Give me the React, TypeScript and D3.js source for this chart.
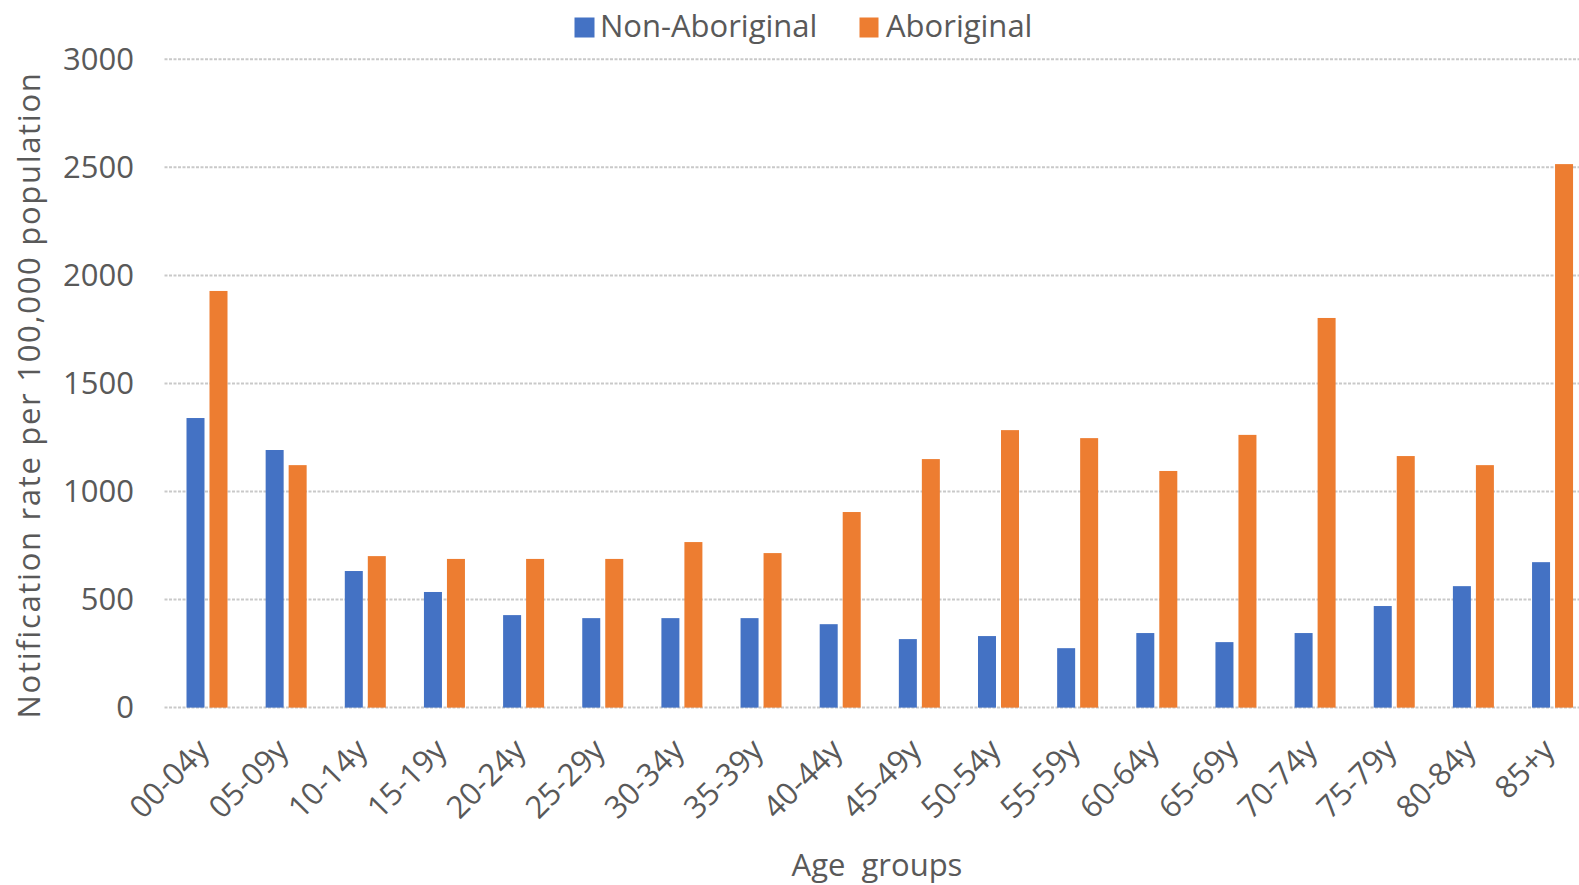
import React from 'react';
import * as d3 from 'd3';

const categories = ['00-04y', '05-09y', '10-14y', '15-19y', '20-24y', '25-29y', '30-34y', '35-39y', '40-44y', '45-49y', '50-54y', '55-59y', '60-64y', '65-69y', '70-74y', '75-79y', '80-84y', '85+y'];
const seriesNames = ['Non-Aboriginal', 'Aboriginal'];
const nonAboriginal = [1340, 1192, 632, 535, 428, 414, 414, 414, 386, 317, 331, 275, 345, 303, 345, 470, 562, 673];
const aboriginal = [1928, 1122, 701, 688, 688, 688, 766, 715, 905, 1150, 1284, 1247, 1095, 1262, 1803, 1164, 1122, 2515];
const yTicks = [0, 500, 1000, 1500, 2000, 2500, 3000];
const colors = ['#4472C4', '#ED7D31'];

const W = 1579;
const H = 885;
const FONT = '"Open Sans", "Noto Sans", sans-serif';
const TEXT = '#595959';

export default function App() {
  const step = 79.15;
  const bandStart = 207 - step / 2;
  const x0 = d3.scaleBand<string>().domain(categories).range([bandStart, bandStart + step * categories.length]).padding(0);
  const x1 = d3.scaleBand<string>().domain(seriesNames).range([0, 41]).paddingInner(5 / 23).paddingOuter(0);
  const y = d3.scaleLinear().domain([0, 3000]).range([707.6, 59.3]);
  const gridLeft = 164.5;
  const values = [nonAboriginal, aboriginal];

  return (
    <svg width={W} height={H} style={{ position: 'absolute', left: 0, top: 0, display: 'block', background: '#fff' }}>
      {/* horizontal gridlines */}
      {yTicks.map((t) => (
        <line key={'g' + t} x1={gridLeft} x2={W} y1={y(t)} y2={y(t)} stroke="#c9c9c9" strokeWidth={2} strokeDasharray="3 1.5" />
      ))}
      {/* y tick labels */}
      {yTicks.map((t) => (
        <text key={'t' + t} x={134} y={y(t)} dy="0.35em" textAnchor="end" fontFamily={FONT} fontSize={31} fill={TEXT}>{t}</text>
      ))}
      {/* bars */}
      {categories.map((c, i) => {
        const cx = x0(c)! + x0.bandwidth() / 2 - 20.5;
        return (
          <g key={c}>
            {seriesNames.map((s, k) => (
              <rect key={s} x={cx + x1(s)!} y={y(values[k][i])} width={x1.bandwidth()} height={y(0) - y(values[k][i])} fill={colors[k]} />
            ))}
          </g>
        );
      })}
      {/* category labels */}
      {categories.map((c) => {
        const ax = x0(c)! + x0.bandwidth() / 2 + 4;
        const ay = 752;
        return (
          <text key={'l' + c} x={ax} y={ay} transform={`rotate(-45 ${ax} ${ay})`} textAnchor="end" fontFamily={FONT} fontSize={31} fill={TEXT}>{c}</text>
        );
      })}
      {/* axis titles */}
      <text x={877} y={876} textAnchor="middle" fontFamily={FONT} fontSize={31} fill={TEXT} wordSpacing={8}>Age groups</text>
      <text transform="translate(40 395) rotate(-90)" textAnchor="middle" fontFamily={FONT} fontSize={31} fill={TEXT} letterSpacing={1.7}>Notification rate per 100,000 population</text>
      {/* legend */}
      <rect x={574.5} y={17.5} width={20} height={20} fill={colors[0]} />
      <text x={600} y={37} fontFamily={FONT} fontSize={31} fill={TEXT}>{seriesNames[0]}</text>
      <rect x={859.5} y={17.5} width={19} height={20} fill={colors[1]} />
      <text x={886} y={37} fontFamily={FONT} fontSize={31} fill={TEXT}>{seriesNames[1]}</text>
    </svg>
  );
}
